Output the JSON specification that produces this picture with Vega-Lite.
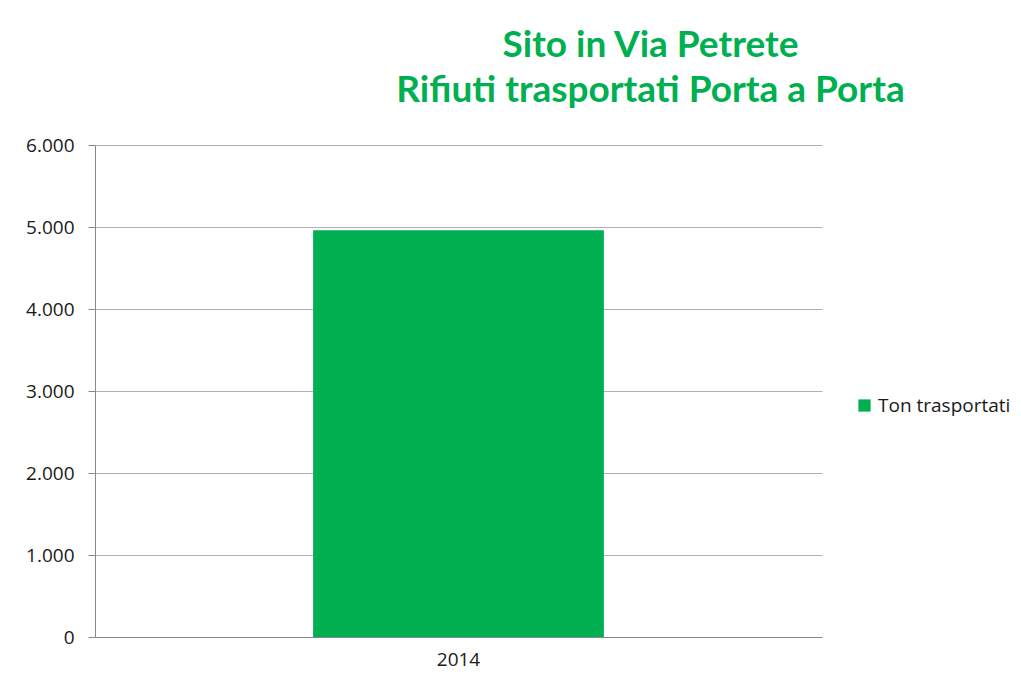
{
  "$schema": "https://vega.github.io/schema/vega-lite/v6.json",
  "autosize": {"type": "none"},
  "padding": {"left": 95, "top": 145, "right": 199, "bottom": 43},
  "width": 727,
  "height": 492,
  "background": "white",
  "data": {"values": [{"anno": "2014", "serie": "Ton trasportati", "ton": 4960}]},
  "title": {
    "text": ["Sito in Via Petrete", "Rifiuti trasportati Porta a Porta"],
    "color": "#00B050",
    "font": "Lato",
    "fontWeight": "bold",
    "fontSize": 37,
    "lineHeight": 45,
    "anchor": "middle",
    "frame": "group",
    "dx": 192,
    "offset": 26
  },
  "mark": {"type": "bar", "color": "#00B050"},
  "encoding": {
    "x": {
      "field": "anno", "type": "nominal",
      "scale": {"paddingInner": 0.6, "paddingOuter": 0.3},
      "axis": {"title": null, "labelAngle": 0, "labelFontSize": 19, "labelFont": "Open Sans", "labelColor": "#1a1a1a", "labelPadding": 13, "domainColor": "#888", "ticks": false}
    },
    "y": {
      "field": "ton", "type": "quantitative",
      "scale": {"domain": [0, 6000]},
      "axis": {"title": null, "values": [0, 1000, 2000, 3000, 4000, 5000, 6000], "labelExpr": "replace(format(datum.value, ','), ',', '.')", "labelFontSize": 19, "labelFont": "Open Sans", "labelColor": "#1a1a1a", "labelPadding": 14, "tickSize": 7, "tickColor": "#888", "domainColor": "#888", "gridColor": "#b0b0b0"}
    },
    "color": {
      "field": "serie", "type": "nominal",
      "scale": {"range": ["#00B050"]},
      "legend": {"title": null, "orient": "none", "legendX": 760, "legendY": 251, "symbolType": "square", "symbolSize": 150, "labelFontSize": 19, "labelFont": "Open Sans", "labelColor": "#1a1a1a", "labelOffset": 4}
    }
  },
  "config": {"view": {"stroke": null}}
}
